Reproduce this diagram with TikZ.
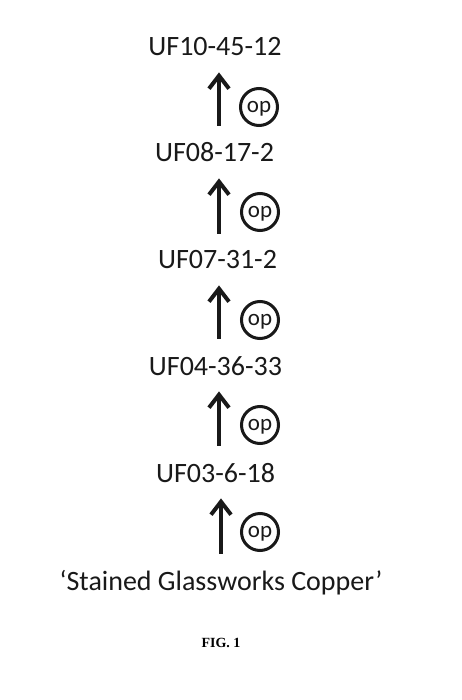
\documentclass[tikz,border=0pt]{standalone}
\usepackage{fontspec}
\setmainfont{Carlito}
\newfontfamily\figfont{Liberation Serif}
\usetikzlibrary{arrows.meta}
\tikzset{
  lbl/.style={inner sep=0pt, anchor=base, font=\fontsize{28}{30}\selectfont, text=black!90},
  arr/.style={line width=4.5pt, draw=black!90, -{Straight Barb[length=13pt,width=20pt,line width=4pt]}},
  opc/.style={circle, draw=black!90, line width=3pt, minimum size=37pt, inner sep=0pt, text depth=0pt, font=\fontsize{23}{24}\selectfont, text=black!90},
  figlbl/.style={inner sep=0pt, anchor=base, font=\figfont\bfseries\fontsize{14}{15}\selectfont}
}
\begin{document}
\begin{tikzpicture}[x=1pt,y=-1pt]
\useasboundingbox (0,0) rectangle (462,700);
\node[lbl] (l1) at (215,56) {UF10-45-12};
\node[lbl] (l2) at (214.5,162) {UF08-17-2};
\node[lbl] (l3) at (217.5,269) {UF07-31-2};
\node[lbl] (l4) at (215.5,375) {UF04-36-33};
\node[lbl] (l5) at (215.5,482) {UF03-6-18};
\node[lbl] (l6) at (221,590) {‘Stained Glassworks Copper’};
\node[figlbl] (fig) at (221,647) {FIG. 1};
\coordinate (ax) at (219,0);
\coordinate (ax2) at (221,0);
\draw[arr] ([yshift=17pt]l2.north -| ax) -- ([yshift=-16pt]l1.south -| ax);
\draw[arr] ([yshift=17pt]l3.north -| ax) -- ([yshift=-16pt]l2.south -| ax);
\draw[arr] ([yshift=17pt]l4.north -| ax) -- ([yshift=-16pt]l3.south -| ax);
\draw[arr] ([yshift=17pt]l5.north -| ax) -- ([yshift=-16pt]l4.south -| ax);
\draw[arr] ([yshift=16pt]l6.north -| ax2) -- ([yshift=-16pt]l5.south -| ax2);
\node[opc] (o1) at (259,107) {op};
\node[opc] (o2) at (260,212) {op};
\node[opc] (o3) at (260,320) {op};
\node[opc] (o4) at (260,425) {op};
\node[opc] (o5) at (260,532) {op};
\end{tikzpicture}
\end{document}
